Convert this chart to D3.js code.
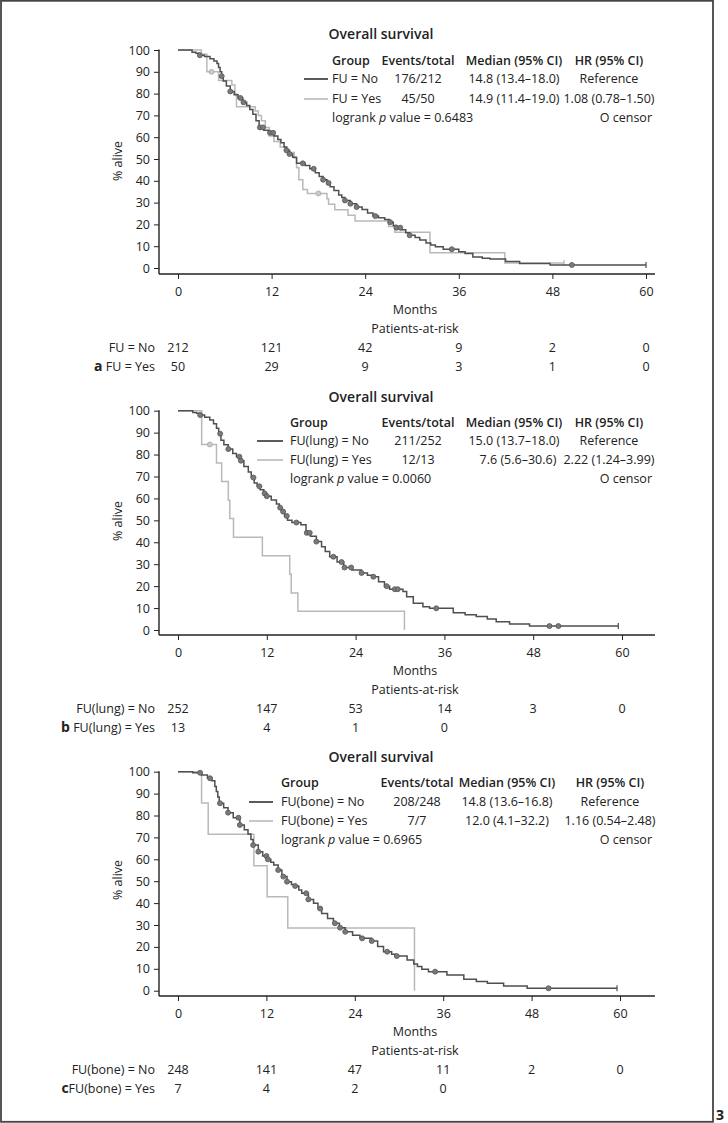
<!DOCTYPE html>
<html><head><meta charset="utf-8">
<script src="https://cdn.jsdelivr.net/npm/d3@7"></script>
<style>
body{margin:0;background:#fff}
svg{display:block}
text{font-family:"Open Sans","Noto Sans",sans-serif;fill:#222}
</style>
</head><body>
<svg id="chart" width="728" height="1123"></svg>
<script>
// ---------- shared labels ----------
const monthTicks = [0, 12, 24, 36, 48, 60];
const pctTicks = [0, 10, 20, 30, 40, 50, 60, 70, 80, 90, 100];
const titleText = "Overall survival";
const legendHeaders = ["Group", "Events/total", "Median (95% CI)", "HR (95% CI)"];

// ---------- panel a ----------
const aGroups = ["FU = No", "FU = Yes"];
const aEvents = ["176/212", "45/50"];
const aMedian = ["14.8 (13.4–18.0)", "14.9 (11.4–19.0)"];
const aHR = ["Reference", "1.08 (0.78–1.50)"];
const aLogrank = "0.6483";
const aNoCurve = [[0,100],[1.8,99],[2.3,98.5],[2.8,97.6],[3.4,97],[4.1,96],[4.6,95],[5.0,93.8],[5.2,92],[5.4,90],[5.6,88],[5.8,85.8],[6.2,83.5],[6.7,81],[7.2,79.5],[7.7,78],[8.3,76],[8.8,74.5],[9.2,72.7],[9.6,70.5],[10.0,67.5],[10.4,64.5],[11.0,63.2],[11.6,62],[12.3,60.5],[12.8,59],[13.2,57.5],[13.6,55.5],[13.9,54],[14.3,52.3],[14.7,50.8],[15.2,48],[16.3,47],[16.9,45.5],[17.6,43.7],[18.1,42],[18.6,40.5],[19.1,39],[19.5,37.3],[20.0,35.5],[20.6,33.5],[21.0,32.3],[21.4,31],[22.1,29.5],[22.9,28],[23.6,26.8],[24.3,25.2],[25.0,23.8],[25.7,23],[26.5,22.3],[27.1,21],[27.6,19.5],[28.0,18.5],[28.6,17.5],[29.2,16.2],[29.7,15],[30.4,14],[31.0,12.8],[31.8,11.5],[32.4,10.5],[33.0,9.8],[34.0,8.6],[36.0,7.5],[36.8,6.7],[37.8,5],[39.0,4.5],[40.0,4.1],[42.0,3],[43.8,2.1],[47.7,1.4]];
const aNoEnd = 60;
const aNoCensor = [2.8,5.6,6.7,8.0,8.4,10.5,10.9,11.8,12.2,13.9,14.3,16.0,17.4,18.6,19.3,21.4,22.1,22.9,25.3,27.2,28.0,28.5,29.7,35.1,50.5];
const aYesCurve = [[0,100],[3.0,98],[3.7,90],[5.2,86],[6.9,84],[7.3,80],[7.5,74],[9.9,72],[10.3,70],[10.7,67.5],[11.2,64.5],[11.7,60.5],[12.3,58],[13.1,55.5],[14.0,53],[14.9,50.5],[15.2,46],[15.5,40.5],[16.0,36],[16.6,34.2],[19.1,31.8],[19.3,29.2],[20.1,26.7],[21.8,24.2],[22.7,21.6],[27.0,19],[27.8,16.4],[32.3,7],[41.9,2.3]];
const aYesEnd = 49.5;
const aYesCensor = [4.3, 18.0];
const aRiskNo = [212, 121, 42, 9, 2, 0];
const aRiskYes = [50, 29, 9, 3, 1, 0];

// ---------- panel b ----------
const bGroups = ["FU(lung) = No", "FU(lung) = Yes"];
const bEvents = ["211/252", "12/13"];
const bMedian = ["15.0 (13.7–18.0)", "7.6 (5.6–30.6)"];
const bHR = ["Reference", "2.22 (1.24–3.99)"];
const bLogrank = "0.0060";
const bNoCurve = [[0,100],[2.0,99.2],[2.5,98.8],[3.0,98],[3.6,97],[4.3,95.8],[4.8,94],[5.2,92],[5.5,89.5],[5.8,86.5],[6.2,84.5],[6.8,82.5],[7.4,80.5],[7.9,79],[8.4,77.2],[8.9,74.5],[9.5,72],[9.9,69.5],[10.3,67],[10.7,65.5],[11.1,64],[11.6,62.3],[12.0,61],[12.6,59.3],[13.3,57.5],[13.7,55.8],[14.0,54],[14.4,52],[14.8,50],[15.4,49],[16.6,48],[17.3,44.3],[17.9,42.8],[18.7,40.3],[19.4,38],[19.9,35.8],[20.5,33.4],[21.5,31],[22.4,28.5],[23.5,27.4],[24.8,26],[25.6,25],[26.4,24.3],[27.1,22],[27.9,20],[28.6,18.6],[30.4,17.6],[30.9,15.2],[31.8,12.2],[33.1,10.6],[34.0,9.9],[37.2,7.9],[38.8,7],[40.3,6.1],[41.8,5],[43.0,3.8],[44.8,2.7],[47.5,1.8]];
const bNoEnd = 59.5;
const bNoCensor = [3.0,5.7,6.8,8.3,8.5,10.2,11.0,11.7,12.0,13.8,14.2,14.7,16.0,17.4,17.8,18.7,21.0,22.1,22.5,23.4,24.8,26.4,28.2,29.3,29.7,34.9,50.2,51.4];
const bYesCurve = [[0,100],[3.2,84.6],[5.2,76.2],[5.9,67.7],[6.8,59.2],[7.0,50.8],[7.5,42.3],[11.4,33.9],[15.1,25.4],[15.3,16.9],[16.2,8.5],[30.6,0]];
const bYesEnd = 30.6;
const bYesCensor = [4.3];
const bRiskNo = [252, 147, 53, 14, 3, 0];
const bRiskYes = [13, 4, 1, 0];

// ---------- panel c ----------
const cGroups = ["FU(bone) = No", "FU(bone) = Yes"];
const cEvents = ["208/248", "7/7"];
const cMedian = ["14.8 (13.6–16.8)", "12.0 (4.1–32.2)"];
const cHR = ["Reference", "1.16 (0.54–2.48)"];
const cLogrank = "0.6965";
const cNoCurve = [[0,100],[2.0,99.5],[3.2,98.5],[4.0,97],[4.6,95.9],[5.0,93.2],[5.2,91],[5.4,88.5],[5.6,85.6],[6.2,83.5],[6.8,81.3],[7.5,79],[8.4,75.7],[9.0,73.5],[9.5,71.6],[9.9,69],[10.2,66.5],[10.9,63.5],[11.5,61.5],[12.1,60],[12.6,58.7],[13.0,57.4],[13.6,55.1],[14.1,52.1],[14.8,49.8],[15.4,48.5],[15.9,47.8],[16.4,46],[16.8,44.5],[17.7,41.7],[18.4,39.9],[19.0,37.5],[19.5,35.3],[20.3,33],[21.1,30.8],[21.9,28.8],[22.7,26.9],[23.7,25.3],[24.7,23.9],[26.3,22.7],[27.1,20.2],[27.9,17.8],[29.0,16.6],[29.5,15.8],[31.1,14],[32.0,12.2],[32.5,11],[33.1,9.8],[34.0,8.7],[36.5,7.2],[38.8,5.2],[40.5,4.2],[42.0,3.4],[44.2,2.1],[47.4,1.1]];
const cNoEnd = 59.6;
const cNoCensor = [3.0,4.35,5.7,6.8,8.2,8.4,10.2,10.9,12.0,12.2,13.6,14.3,14.8,15.9,17.4,17.7,19.3,21.3,22.0,22.7,25.0,26.3,28.4,29.7,34.9,50.3];
const cYesCurve = [[0,100],[3.2,85.7],[4.1,71.4],[10.3,57.1],[12.1,42.9],[14.9,28.6],[32.1,0]];
const cYesEnd = 32.1;
const cYesCensor = [];
const cRiskNo = [248, 141, 47, 11, 2, 0];
const cRiskYes = [7, 4, 2, 0];

// ---------- layout ----------
const panels = [
  {letter:"a", letterSpace:" ", groups:aGroups, events:aEvents, median:aMedian, hr:aHR, logrank:aLogrank,
   no:aNoCurve, noEnd:aNoEnd, noCensor:aNoCensor, yes:aYesCurve, yesEnd:aYesEnd, yesCensor:aYesCensor,
   riskNo:aRiskNo, riskYes:aRiskYes,
   yTop:50, yBot:268, axisY:274, x60:646, titleY:34, headY:61, rowY:[79,99], lrY:118,
   groupX:332, lineX:[304,328], evX:418, medX:514, medX2:514, hrX:609, yLabY:161},
  {letter:"b", letterSpace:" ", groups:bGroups, events:bEvents, median:bMedian, hr:bHR, logrank:bLogrank,
   no:bNoCurve, noEnd:bNoEnd, noCensor:bNoCensor, yes:bYesCurve, yesEnd:bYesEnd, yesCensor:bYesCensor,
   riskNo:bRiskNo, riskYes:bRiskYes,
   yTop:410.7, yBot:630, axisY:635, x60:622, titleY:397, headY:423, rowY:[441,460], lrY:479,
   groupX:290, lineX:[257,283], evX:418, medX:514, medX2:518, hrX:609, yLabY:521},
  {letter:"c", letterSpace:"", groups:cGroups, events:cEvents, median:cMedian, hr:cHR, logrank:cLogrank,
   no:cNoCurve, noEnd:cNoEnd, noCensor:cNoCensor, yes:cYesCurve, yesEnd:cYesEnd, yesCensor:cYesCensor,
   riskNo:cRiskNo, riskYes:cRiskYes,
   yTop:771.7, yBot:990.7, axisY:996, x60:620, titleY:757, headY:783, rowY:[802,821], lrY:840,
   groupX:281, lineX:[249,273], evX:417, medX:507, medX2:507, hrX:610, yLabY:880}
];

const darkCol = "#4f4f4f", lightCol = "#b9b9b9";
const svg = d3.select("#chart");

// frame
svg.append("rect").attr("x",1).attr("y",0.8).attr("width",712).attr("height",1121)
  .attr("fill","none").attr("stroke","#444").attr("stroke-width",1.8);
svg.append("text").attr("x",716).attr("y",1120).attr("font-size",14).attr("font-weight",700).text("3");

function survAt(curve, t){
  let s = curve[0][1];
  for (const p of curve){ if (p[0] <= t) s = p[1]; else break; }
  return s;
}

panels.forEach(P => {
  const g = svg.append("g");
  const x = d3.scaleLinear().domain([0,60]).range([178, P.x60]);
  const y = d3.scaleLinear().domain([0,100]).range([P.yBot, P.yTop]);
  const fs = 12.5;

  // axes
  const xa = g.append("g").attr("transform",`translate(0,${P.axisY})`)
    .call(d3.axisBottom(x).tickValues(monthTicks).tickSize(5).tickPadding(8));
  xa.select(".domain").remove();
  xa.selectAll("line").attr("stroke","#222").attr("stroke-width",1);
  xa.selectAll("text").attr("font-size",fs).attr("font-family","Open Sans").attr("fill","#222");
  const ya = g.append("g").attr("transform","translate(159,0)")
    .call(d3.axisLeft(y).tickValues(pctTicks).tickSize(5).tickPadding(4));
  ya.select(".domain").remove();
  ya.selectAll("line").attr("stroke","#222").attr("stroke-width",1);
  ya.selectAll("text").attr("font-size",fs).attr("font-family","Open Sans").attr("fill","#222");
  g.append("line").attr("x1",159).attr("x2",655).attr("y1",P.axisY).attr("y2",P.axisY)
    .attr("stroke","#222").attr("stroke-width",1.4);
  g.append("line").attr("x1",159).attr("x2",159).attr("y1",y(100)-0.5).attr("y2",P.axisY)
    .attr("stroke","#222").attr("stroke-width",1.4);

  g.append("text").attr("transform",`translate(118,${P.yLabY}) rotate(-90)`)
    .attr("text-anchor","middle").attr("dy","0.35em").attr("font-size",fs).text("% alive");

  // curves
  const line = d3.line().x(d=>x(d[0])).y(d=>y(d[1])).curve(d3.curveStepAfter);
  function drawCurve(curve, end, censor, col, cfill, cstroke){
    const last = curve[curve.length-1];
    const pts = curve.slice();
    if (end > last[0]) pts.push([end, last[1]]);
    g.append("path").attr("d", line(pts)).attr("fill","none").attr("stroke",col).attr("stroke-width",1.5);
    if (last[1] > 0) {
      g.append("line").attr("x1",x(end)).attr("x2",x(end)).attr("y1",y(last[1])-3).attr("y2",y(last[1])+3)
        .attr("stroke",col).attr("stroke-width",1.2);
    }
    g.selectAll(null).data(censor).enter().append("circle")
      .attr("cx",d=>x(d)).attr("cy",d=>y(survAt(curve,d))).attr("r",2.5)
      .attr("fill",cfill).attr("stroke",cstroke).attr("stroke-width",0.8);
  }
  drawCurve(P.yes, P.yesEnd, P.yesCensor, lightCol, "#c9c9c9", "#a8a8a8");
  drawCurve(P.no, P.noEnd, P.noCensor, darkCol, "#7a7a7a", "#555");

  // title
  g.append("text").attr("x",381).attr("y",P.titleY).attr("dy","0.35em").attr("text-anchor","middle")
    .attr("font-size",14).attr("font-weight",600).text(titleText);

  // legend table
  const hdrX = [P.groupX, P.evX, P.medX, P.hrX];
  const hdrAnchor = ["start","middle","middle","middle"];
  legendHeaders.forEach((h,i)=>{
    g.append("text").attr("x",hdrX[i]).attr("y",P.headY).attr("dy","0.35em").attr("text-anchor",hdrAnchor[i])
      .attr("font-size",fs).attr("font-weight",600).text(h);
  });
  [0,1].forEach(i=>{
    const ry = P.rowY[i];
    g.append("line").attr("x1",P.lineX[0]).attr("x2",P.lineX[1]).attr("y1",ry).attr("y2",ry)
      .attr("stroke", i===0 ? "#333" : lightCol).attr("stroke-width",1.6);
    g.append("text").attr("x",P.groupX).attr("y",ry).attr("dy","0.35em").attr("font-size",fs).text(P.groups[i]);
    g.append("text").attr("x",P.evX).attr("y",ry).attr("dy","0.35em").attr("text-anchor","middle").attr("font-size",fs).text(P.events[i]);
    g.append("text").attr("x",i===0?P.medX:P.medX2).attr("y",ry).attr("dy","0.35em").attr("text-anchor","middle").attr("font-size",fs).text(P.median[i]);
    g.append("text").attr("x",P.hrX).attr("y",ry).attr("dy","0.35em").attr("text-anchor","middle").attr("font-size",fs).text(P.hr[i]);
  });
  const lr = g.append("text").attr("x",P.groupX).attr("y",P.lrY).attr("dy","0.35em").attr("font-size",fs);
  lr.append("tspan").text("logrank ");
  lr.append("tspan").attr("font-style","italic").text("p");
  lr.append("tspan").text(" value = " + P.logrank);
  g.append("text").attr("x",652).attr("y",P.lrY).attr("dy","0.35em").attr("text-anchor","end").attr("font-size",fs).text("O censor");

  // axis title & risk table
  g.append("text").attr("x",415).attr("y",P.axisY+36).attr("dy","0.35em").attr("text-anchor","middle").attr("font-size",fs).text("Months");
  g.append("text").attr("x",415).attr("y",P.axisY+55).attr("dy","0.35em").attr("text-anchor","middle").attr("font-size",fs).text("Patients-at-risk");
  const r1 = P.axisY+74, r2 = P.axisY+93;
  g.append("text").attr("x",155).attr("y",r1).attr("dy","0.35em").attr("text-anchor","end").attr("font-size",fs).text(P.groups[0]);
  const l2 = g.append("text").attr("x",155).attr("y",r2).attr("dy","0.35em").attr("text-anchor","end").attr("font-size",fs);
  l2.append("tspan").attr("font-weight",700).attr("font-size",14).text(P.letter);
  l2.append("tspan").text(P.letterSpace + P.groups[1]);
  g.selectAll(null).data(P.riskNo).enter().append("text")
    .attr("x",(d,i)=>x(monthTicks[i])).attr("y",r1).attr("dy","0.35em").attr("text-anchor","middle").attr("font-size",fs).text(d=>d);
  g.selectAll(null).data(P.riskYes).enter().append("text")
    .attr("x",(d,i)=>x(monthTicks[i])).attr("y",r2).attr("dy","0.35em").attr("text-anchor","middle").attr("font-size",fs).text(d=>d);
});
</script>
</body></html>
